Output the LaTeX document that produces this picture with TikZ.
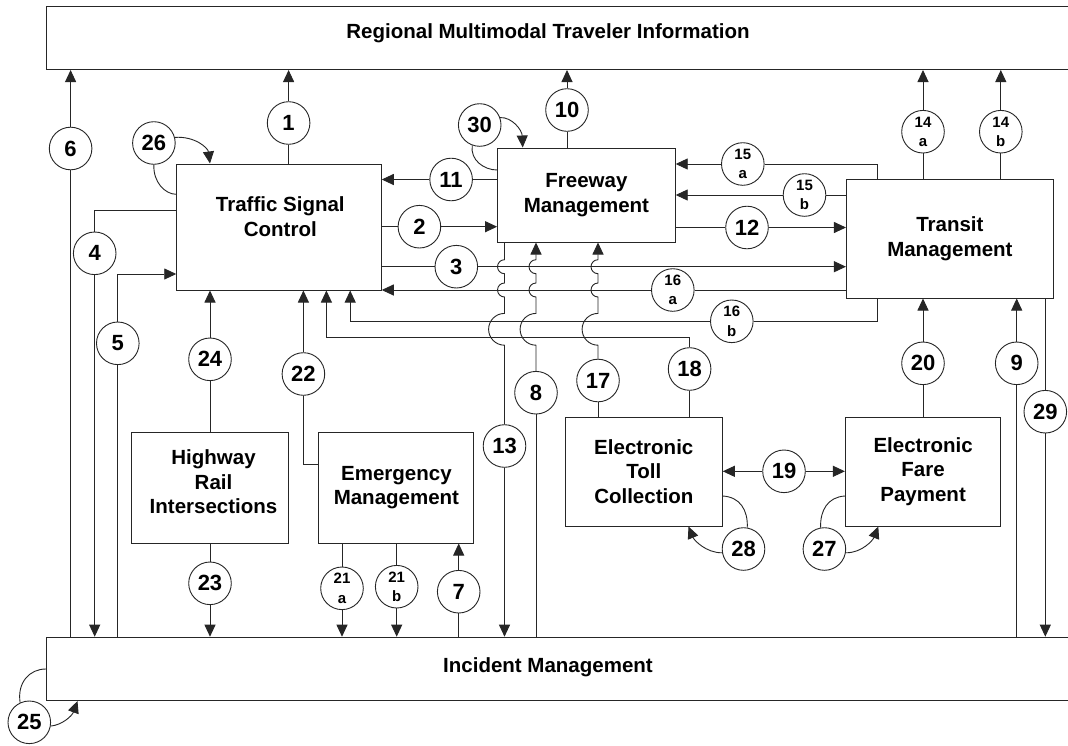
\documentclass[tikz,border=0pt]{standalone}
\usepackage{fontspec}
\setmainfont{Liberation Sans}
\usetikzlibrary{arrows.meta}

\tikzset{
	block/.style={draw, line width=1pt, align=center, inner sep=0pt,
		font=\fontsize{20.5}{24.5}\selectfont\bfseries},
	lbl/.style={align=center, inner sep=0pt, font=\fontsize{20.5}{24.5}\selectfont\bfseries},
	tag/.style={circle, draw, fill=white, line width=0.9pt, inner sep=0pt,
		minimum size=42.6pt, font=\fontsize{22}{22}\selectfont\bfseries},
	subtag/.style={tag, align=center, font=\fontsize{15}{19.5}\selectfont\bfseries},
	flow/.style={line width=0.9pt},
	arr/.style={flow, -{Triangle[length=12pt,width=11pt]}},
}

\begin{document}
\begin{tikzpicture}[x=1pt, y=-1pt, draw=black!85]
		\useasboundingbox[fill=white] (0,0) rectangle (1068,745);
		
		%subsystems
		\node[block, minimum width=1040pt, minimum height=63pt, anchor=north west] (rmti) at (45.8,6) {};
		\node[lbl] at (548,33) {Regional Multimodal Traveler Information};
		\node[block, minimum width=1040pt, minimum height=63.3pt, anchor=north west] (inm) at (45.8,636.7) {};
		\node[lbl] at (548,667) {Incident Management};
		\node[block, minimum width=204.5pt, minimum height=126pt] (tsc) at (279,227) {};
		\node[lbl] at (280.3,216.5) {Traffic Signal\\Control};
		\node[block, minimum width=177.6pt, minimum height=94pt] (fm) at (586.4,195) {Freeway\\Management};
		\node[block, minimum width=206.9pt, minimum height=119pt] (trm) at (949.9,238.5) {Transit\\Management};
		\node[block, minimum width=157pt, minimum height=111pt] (hri) at (209.7,487.5) {};
		\node[lbl] at (213.5,482) {Highway\\Rail\\Intersections};
		\node[block, minimum width=154.9pt, minimum height=111pt] (em) at (396.4,487.5) {Emergency\\Management};
		\node[block, minimum width=156.9pt, minimum height=109pt] (etc) at (643.8,471.5) {Electronic\\Toll\\Collection};
		\node[block, minimum width=155.4pt, minimum height=109pt] (efp) at (923.1,471.5) {Electronic\\Fare\\Payment};
		
		%flow numbers
		\node[tag] (c1) at (288.6,123) {1};
		\node[tag] (c2) at (419.4,226.7) {2};
		\node[tag] (c3) at (456.3,266.7) {3};
		\node[tag] (c4) at (94.7,253.3) {4};
		\node[tag] (c5) at (117.8,343.3) {5};
		\node[tag] (c6) at (70.6,148.5) {6};
		\node[tag] (c7) at (458.7,591.7) {7};
		\node[tag] (c8) at (536,392.7) {8};
		\node[tag] (c9) at (1016.7,363.3) {9};
		\node[tag] (c10) at (567,110) {10};
		\node[tag] (c11) at (451.1,179.5) {11};
		\node[tag] (c12) at (747,227.5) {12};
		\node[tag] (c13) at (504.5,446) {13};
		\node[subtag] (c14a) at (923,131.7) {14\\a};
		\node[subtag] (c14b) at (1000.8,131.7) {14\\b};
		\node[subtag] (c15a) at (742.8,164) {15\\a};
		\node[subtag] (c15b) at (804.5,195) {15\\b};
		\node[subtag] (c16a) at (672.8,290) {16\\a};
		\node[subtag] (c16b) at (731.8,321.3) {16\\b};
		\node[tag] (c17) at (598,380.5) {17};
		\node[tag] (c18) at (689.6,369) {18};
		\node[tag] (c19) at (784,471.3) {19};
		\node[tag] (c20) at (923,363.3) {20};
		\node[subtag] (c21a) at (342,588.3) {21\\a};
		\node[subtag] (c21b) at (396.7,586.7) {21\\b};
		\node[tag] (c22) at (303.4,374) {22};
		\node[tag] (c23) at (210,583.3) {23};
		\node[tag] (c24) at (210,359.3) {24};
		\node[tag] (c25) at (29.3,722.3) {25};
		\node[tag] (c26) at (153.9,143) {26};
		\node[tag] (c27) at (824.4,549) {27};
		\node[tag] (c28) at (743.5,549) {28};
		\node[tag] (c29) at (1045.3,411.7) {29};
		\node[tag] (c30) at (479.7,125) {30};
		
		%to traveler information
		\draw[flow] (c1) -- (c1 |- tsc.north);
		\draw[arr] (c1) -- (c1 |- rmti.south);
		\draw[flow] (c6) -- (c6 |- inm.north);
		\draw[arr] (c6) -- (c6 |- rmti.south);
		\draw[flow] (fm.north -| c10) -- (c10);
		\draw[arr] (c10) -- (c10 |- rmti.south);
		\draw[flow] (trm.north -| c14a) -- (c14a);
		\draw[arr] (c14a) -- (c14a |- rmti.south);
		\draw[flow] (trm.north -| c14b) -- (c14b);
		\draw[arr] (c14b) -- (c14b |- rmti.south);
		
		%traffic signal control
		\draw[flow] (tsc.west |- 0,210.7) -| (c4);
		\draw[arr] (c4) -- (c4 |- inm.north);
		\draw[flow] (c5) -- (c5 |- inm.north);
		\draw[arr] (c5) |- (tsc.west |- 0,274);
		\draw[flow] (hri.north -| c24) -- (c24);
		\draw[arr] (c24) -- (c24 |- tsc.south);
		\draw[flow] (em.west |- 0,464) -| (c22);
		\draw[arr] (c22) -- (c22 |- tsc.south);
		\draw[flow] (tsc.east |- c2) -- (c2);
		\draw[arr] (c2) -- (c2 -| fm.west);
		\draw[flow] (tsc.east |- c3) -- (c3);
		\draw[arr] (c3) -- (c3 -| trm.west);
		\draw[flow] (fm.west |- c11) -- (c11);
		\draw[arr] (c11) -- (c11 -| tsc.east);
		
		%freeway and transit
		\draw[flow] (fm.east |- c12) -- (c12);
		\draw[arr] (c12) -- (c12 -| trm.west);
		\draw[flow] (trm.north -| 877.3,0) |- (c15a);
		\draw[arr] (c15a) -- (c15a -| fm.east);
		\draw[flow] (trm.west |- c15b) -- (c15b);
		\draw[arr] (c15b) -- (c15b -| fm.east);
		\draw[flow] (trm.west |- c16a) -- (c16a);
		\draw[arr] (c16a) -- (c16a -| tsc.east);
		\draw[flow] (trm.south -| 877.3,0) |- (c16b);
		\draw[arr] (c16b) -| (tsc.south -| 350.2,0);
		\draw[flow] (etc.north -| c18) -- (c18);
		\draw[arr] (c18) |- (326.4,337.7) -- (tsc.south -| 326.4,0);
		
		%lines that hop over the others
		\draw[flow] (fm.south -| c13) -- (504.5,259.7) arc[start angle=90, end angle=270, radius=7pt]
			-- (504.5,283) arc[start angle=90, end angle=270, radius=7pt]
			-- (504.5,313.4) arc[start angle=90, end angle=270, radius=15.9pt] -- (c13);
		\draw[arr] (c13) -- (c13 |- inm.north);
		\draw[flow] (c8) -- (c8 |- inm.north);
		\draw[arr] (c8) -- (536,345.2) arc[start angle=270, end angle=90, radius=15.9pt]
			-- (536,297) arc[start angle=270, end angle=90, radius=7pt]
			-- (536,273.7) arc[start angle=270, end angle=90, radius=7pt] -- (c8 |- fm.south);
		\draw[flow] (etc.north -| c17) -- (c17);
		\draw[arr] (c17) -- (598,345.2) arc[start angle=270, end angle=90, radius=15.9pt]
			-- (598,297) arc[start angle=270, end angle=90, radius=7pt]
			-- (598,273.7) arc[start angle=270, end angle=90, radius=7pt] -- (c17 |- fm.south);
		
		%payment
		\draw[arr] (c19) -- (c19 -| etc.east);
		\draw[arr] (c19) -- (c19 -| efp.west);
		\draw[flow] (efp.north -| c20) -- (c20);
		\draw[arr] (c20) -- (c20 |- trm.south);
		\draw[flow] (c9) -- (c9 |- inm.north);
		\draw[arr] (c9) -- (c9 |- trm.south);
		\draw[flow] (trm.south -| c29) -- (c29);
		\draw[arr] (c29) -- (c29 |- inm.north);
		
		%incident management
		\draw[flow] (hri.south -| c23) -- (c23);
		\draw[arr] (c23) -- (c23 |- inm.north);
		\draw[flow] (em.south -| c21a) -- (c21a);
		\draw[arr] (c21a) -- (c21a |- inm.north);
		\draw[flow] (em.south -| c21b) -- (c21b);
		\draw[arr] (c21b) -- (c21b |- inm.north);
		\draw[flow] (c7) -- (c7 |- inm.north);
		\draw[arr] (c7) -- (c7 |- em.south);
		
		%loops back into the same subsystem
		\draw[arr] (c26.15) .. controls (195,136) and (208,148) .. (tsc.north -| 210,0);
		\draw[flow] (c26.south) .. controls (153,182) and (165,194.3) .. (tsc.west |- 0,194.3);
		\draw[arr] (c30.20) .. controls (512,117) and (522,130) .. (fm.north -| 522.7,0);
		\draw[flow] (c30.250) .. controls (470,160) and (484,170) .. (fm.west |- 0,170);
		\draw[flow] (etc.east |- 0,496) .. controls (740,497) and (748,510) .. (c28.80);
		\draw[arr] (c28.190) .. controls (706,553) and (694,540) .. (etc.south -| 688.5,0);
		\draw[flow] (efp.west |- 0,496) .. controls (828,497) and (820,510) .. (c27.100);
		\draw[arr] (c27.350) .. controls (862,553) and (873,540) .. (efp.south -| 878.3,0);
		\draw[flow] (c25.115) .. controls (17,682) and (30,669) .. (inm.west |- 0,669);
		\draw[arr] (c25.-10) .. controls (62,725) and (72,716) .. (inm.south -| 77.5,0);
\end{tikzpicture}
\end{document}
